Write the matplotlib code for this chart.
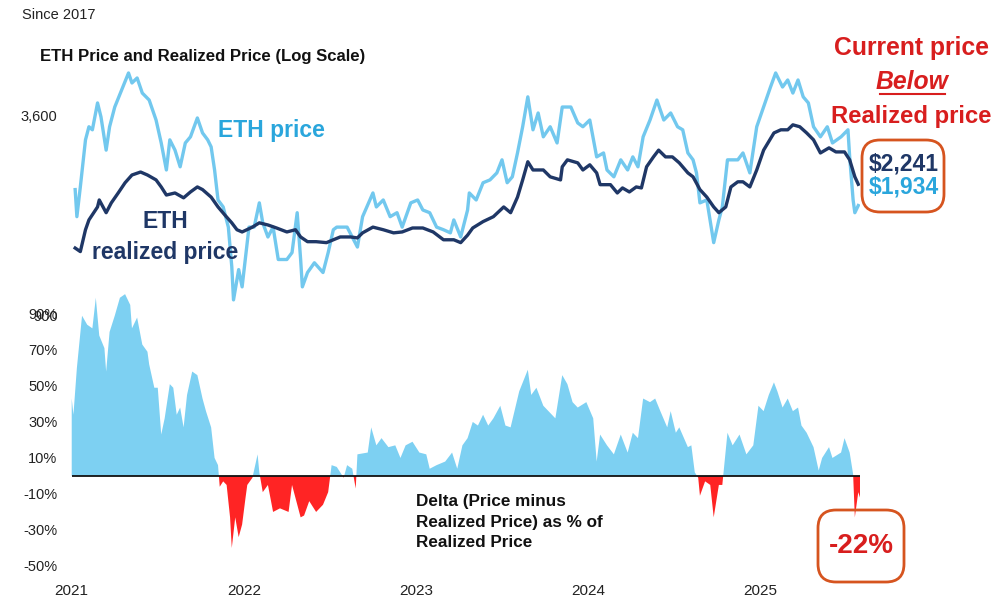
import matplotlib
matplotlib.use("Agg")
import matplotlib.pyplot as plt
import numpy as np
from matplotlib.patches import FancyBboxPatch
from matplotlib.transforms import IdentityTransform

# ETH price (USD, log scale), x in decimal years as labelled on the chart
price_years = [2021.02, 2021.03, 2021.05, 2021.08, 2021.10, 2021.12, 2021.15, 2021.17, 2021.20, 2021.22,
               2021.25, 2021.29, 2021.33, 2021.35, 2021.38, 2021.41, 2021.45, 2021.49, 2021.52, 2021.55,
               2021.57, 2021.60, 2021.63, 2021.66, 2021.69, 2021.73, 2021.76, 2021.79, 2021.81, 2021.83,
               2021.85, 2021.88, 2021.91, 2021.93, 2021.94, 2021.97, 2021.99, 2022.03, 2022.06, 2022.09,
               2022.11, 2022.14, 2022.17, 2022.20, 2022.25, 2022.28, 2022.31, 2022.33, 2022.34, 2022.37,
               2022.41, 2022.46, 2022.49, 2022.52, 2022.54, 2022.60, 2022.66, 2022.69, 2022.75, 2022.77,
               2022.81, 2022.85, 2022.89, 2022.92, 2022.97, 2023.01, 2023.04, 2023.08, 2023.12, 2023.16,
               2023.20, 2023.22, 2023.26, 2023.30, 2023.31, 2023.35, 2023.39, 2023.43, 2023.47, 2023.50,
               2023.53, 2023.56, 2023.59, 2023.62, 2023.65, 2023.68, 2023.71, 2023.74, 2023.78, 2023.82,
               2023.85, 2023.90, 2023.94, 2023.97, 2024.01, 2024.05, 2024.09, 2024.11, 2024.15, 2024.19,
               2024.23, 2024.26, 2024.29, 2024.32, 2024.36, 2024.40, 2024.44, 2024.48, 2024.52, 2024.55,
               2024.58, 2024.61, 2024.63, 2024.65, 2024.69, 2024.73, 2024.76, 2024.78, 2024.81, 2024.87,
               2024.90, 2024.94, 2024.98, 2025.02, 2025.06, 2025.09, 2025.13, 2025.16, 2025.19, 2025.22,
               2025.25, 2025.28, 2025.31, 2025.35, 2025.39, 2025.42, 2025.47, 2025.51, 2025.52, 2025.54,
               2025.55, 2025.57]
price_vals = [2160, 1790, 2200, 3050, 3340, 3270, 3940, 3575, 2840, 3340,
              3830, 4310, 4850, 4525, 4685, 4220, 4020, 3500, 2985, 2475,
              3050, 2840, 2530, 2985, 3115, 3550, 3200, 3050, 2905, 2475,
              2010, 1915, 1665, 1265, 1005, 1240, 1100, 1665, 1665, 1970,
              1715, 1555, 1665, 1330, 1330, 1395, 1840, 1330, 1100, 1215,
              1300, 1215, 1395, 1635, 1665, 1665, 1450, 1790, 2110, 1915,
              2010, 1790, 1840, 1665, 1970, 2010, 1875, 1840, 1665, 1635,
              1600, 1750, 1555, 1875, 2110, 2010, 2265, 2310, 2425, 2655,
              2265, 2360, 2785, 3340, 4110, 3270, 3675, 3115, 3340, 2985,
              3830, 3830, 3430, 3340, 3500, 2710, 2785, 2475, 2360, 2655,
              2475, 2710, 2530, 3115, 3500, 4020, 3500, 3675, 3340, 3270,
              2785, 2655, 2425, 1970, 2010, 1495, 1750, 1915, 2655, 2655,
              2785, 2425, 3340, 3830, 4400, 4850, 4400, 4620, 4220, 4620,
              4110, 3940, 3340, 3115, 3340, 2985, 3115, 3270, 2710, 2010,
              1840, 1934]

# ETH realized price (USD)
real_years = [2021.02, 2021.05, 2021.08, 2021.10, 2021.15, 2021.16, 2021.20, 2021.23, 2021.27, 2021.31,
              2021.35, 2021.40, 2021.44, 2021.49, 2021.52, 2021.55, 2021.60, 2021.65, 2021.69, 2021.73,
              2021.76, 2021.81, 2021.85, 2021.89, 2021.93, 2021.96, 2021.99, 2022.05, 2022.09, 2022.14,
              2022.19, 2022.25, 2022.30, 2022.33, 2022.37, 2022.42, 2022.48, 2022.52, 2022.56, 2022.62,
              2022.66, 2022.69, 2022.75, 2022.81, 2022.87, 2022.92, 2022.98, 2023.04, 2023.10, 2023.16,
              2023.22, 2023.26, 2023.30, 2023.33, 2023.39, 2023.45, 2023.51, 2023.55, 2023.59, 2023.62,
              2023.65, 2023.68, 2023.74, 2023.78, 2023.84, 2023.85, 2023.88, 2023.94, 2023.97, 2024.01,
              2024.05, 2024.07, 2024.13, 2024.17, 2024.20, 2024.24, 2024.28, 2024.31, 2024.34, 2024.38,
              2024.41, 2024.45, 2024.49, 2024.53, 2024.58, 2024.61, 2024.65, 2024.69, 2024.73, 2024.76,
              2024.80, 2024.83, 2024.87, 2024.90, 2024.94, 2024.98, 2025.02, 2025.08, 2025.12, 2025.16,
              2025.19, 2025.23, 2025.27, 2025.31, 2025.35, 2025.40, 2025.44, 2025.49, 2025.52, 2025.55,
              2025.57]
real_vals = [1440, 1405, 1635, 1750, 1915, 2010, 1840, 1970, 2110, 2265,
             2390, 2440, 2390, 2310, 2200, 2080, 2110, 2040, 2125, 2200,
             2160, 2050, 1915, 1810, 1715, 1635, 1610, 1665, 1715, 1690,
             1655, 1610, 1635, 1555, 1505, 1505, 1495, 1525, 1555, 1555,
             1545, 1600, 1665, 1635, 1600, 1610, 1655, 1655, 1610, 1525,
             1525, 1495, 1575, 1655, 1730, 1790, 1915, 1840, 2050, 2310,
             2620, 2475, 2475, 2360, 2310, 2530, 2655, 2600, 2475, 2565,
             2425, 2235, 2235, 2110, 2185, 2125, 2200, 2185, 2530, 2710,
             2840, 2710, 2710, 2600, 2425, 2360, 2160, 2050, 1915, 1840,
             1915, 2200, 2280, 2280, 2200, 2475, 2840, 3200, 3270, 3270,
             3385, 3340, 3200, 3050, 2785, 2885, 2805, 2805, 2655, 2360,
             2241]

# Delta (price minus realized price) as % of realized price
delta_years = [2021.00, 2021.01, 2021.03, 2021.06, 2021.09, 2021.12, 2021.14, 2021.16, 2021.19, 2021.20,
               2021.22, 2021.25, 2021.28, 2021.31, 2021.34, 2021.35, 2021.38, 2021.41, 2021.44, 2021.45,
               2021.48, 2021.50, 2021.52, 2021.54, 2021.57, 2021.59, 2021.61, 2021.63, 2021.65, 2021.67,
               2021.70, 2021.73, 2021.76, 2021.78, 2021.81, 2021.83, 2021.85, 2021.86, 2021.88, 2021.90,
               2021.92, 2021.93, 2021.95, 2021.97, 2021.99, 2022.01, 2022.02, 2022.05, 2022.08, 2022.09,
               2022.11, 2022.14, 2022.17, 2022.21, 2022.26, 2022.28, 2022.33, 2022.35, 2022.38, 2022.42,
               2022.46, 2022.49, 2022.51, 2022.54, 2022.58, 2022.60, 2022.63, 2022.65, 2022.66, 2022.72,
               2022.74, 2022.77, 2022.80, 2022.84, 2022.88, 2022.91, 2022.94, 2022.98, 2023.02, 2023.06,
               2023.08, 2023.12, 2023.17, 2023.21, 2023.24, 2023.27, 2023.30, 2023.33, 2023.36, 2023.39,
               2023.42, 2023.45, 2023.49, 2023.52, 2023.55, 2023.58, 2023.60, 2023.65, 2023.67, 2023.70,
               2023.74, 2023.77, 2023.81, 2023.85, 2023.88, 2023.91, 2023.94, 2023.99, 2024.03, 2024.05,
               2024.07, 2024.11, 2024.15, 2024.19, 2024.23, 2024.26, 2024.29, 2024.32, 2024.36, 2024.39,
               2024.42, 2024.46, 2024.48, 2024.51, 2024.53, 2024.58, 2024.60, 2024.62, 2024.64, 2024.65,
               2024.68, 2024.71, 2024.73, 2024.76, 2024.78, 2024.81, 2024.84, 2024.88, 2024.92, 2024.96,
               2024.99, 2025.02, 2025.05, 2025.08, 2025.10, 2025.13, 2025.16, 2025.19, 2025.22, 2025.24,
               2025.27, 2025.31, 2025.34, 2025.36, 2025.40, 2025.42, 2025.47, 2025.49, 2025.52, 2025.54,
               2025.55, 2025.57, 2025.58]
delta_vals = [43, 34, 60, 89, 84, 82, 99, 78, 71, 58,
              80, 89, 99, 101, 95, 82, 88, 73, 69, 62,
              49, 49, 23, 32, 51, 49, 34, 38, 27, 45,
              58, 56, 43, 36, 27, 10, 6, -6, -3, -5,
              -23, -40, -23, -34, -27, -12, -5, -1, 12, 2,
              -9, -5, -20, -18, -20, -5, -23, -22, -14, -20,
              -16, -9, 6, 5, -1, 6, 4, -7, 12, 13,
              27, 17, 21, 16, 17, 10, 17, 19, 13, 12,
              4, 6, 8, 13, 4, 17, 21, 30, 28, 34,
              28, 32, 39, 28, 27, 39, 47, 59, 45, 49,
              39, 36, 32, 56, 51, 41, 38, 41, 32, 8,
              23, 17, 12, 23, 13, 24, 21, 43, 41, 43,
              36, 27, 36, 24, 27, 16, 17, 2, -1, -11,
              -3, -5, -23, -5, -5, 24, 17, 23, 12, 17,
              39, 36, 45, 52, 47, 38, 43, 36, 38, 28,
              24, 16, 3, 10, 16, 10, 13, 21, 13, 1,
              -23, -9, -12]

year_ticks = [2021, 2022, 2023, 2024, 2025]
delta_ticks = [-50, -30, -10, 10, 30, 50, 70, 90]
price_ticks = [900, 3600]
price_tick_labels = ["900", "3,600"]

LIGHT = "#72c8ee"
FILL = "#7dd0f2"
NAVY = "#1f3766"
RED = "#d81e1e"
BOX = "#d6541f"

plt.rcParams["font.family"] = ["Liberation Sans", "DejaVu Sans"]

W, H = 1000, 600
fig = plt.figure(figsize=(10, 6), dpi=100)


def fx(px):
    return px / W


def fy(py):
    return 1 - py / H


x_lim = (2020.99, 2025.58)
left, right = 70, 860

# bottom panel: delta
ax_d = fig.add_axes([fx(left), fy(578), fx(right - left), (578 - 290) / H])
d = np.array(delta_vals, dtype=float)
yrs = np.array(delta_years)
ax_d.fill_between(yrs, 0, d, where=d >= 0, interpolate=True, color=FILL, lw=0)
ax_d.fill_between(yrs, 0, d, where=d <= 0, interpolate=True, color="#ff2424", lw=0)
ax_d.hlines(0, yrs.min(), yrs.max(), color="#111111", lw=1.3)
ax_d.set_xlim(*x_lim)
ax_d.set_ylim(-56.7, 103.3)
ax_d.set_yticks(delta_ticks)
ax_d.set_yticklabels([f"{v}%" for v in delta_ticks])
ax_d.set_xticks(year_ticks)
ax_d.set_xticklabels([str(y) for y in year_ticks])
ax_d.tick_params(length=0, labelsize=11, colors="#222222", pad=4)
ax_d.tick_params(axis="y", labelsize=10.5, pad=9)
for s in ax_d.spines.values():
    s.set_visible(False)
ax_d.patch.set_alpha(0)

# top panel: prices (log)
ax_p = fig.add_axes([fx(left), fy(578), fx(right - left), (578 - 60) / H])
ax_p.plot(price_years, price_vals, color=LIGHT, lw=2.4)
ax_p.plot(real_years, real_vals, color=NAVY, lw=2.4)
ax_p.set_yscale("log")
ax_p.set_ylim(146, 5307)
ax_p.set_xlim(*x_lim)
ax_p.set_yticks(price_ticks)
ax_p.set_yticklabels(price_tick_labels)
ax_p.yaxis.set_minor_locator(plt.NullLocator())
ax_p.set_xticks([])
ax_p.tick_params(length=0, labelsize=10.5, colors="#222222", pad=9)
for s in ax_p.spines.values():
    s.set_visible(False)
ax_p.patch.set_alpha(0)

# titles
fig.text(fx(22), fy(15), "Since 2017", fontsize=10.5, color="#222222", va="center", ha="left")
fig.text(fx(40), fy(56), "ETH Price and Realized Price (Log Scale)", fontsize=12.1,
         fontweight="bold", color="#111111", va="center", ha="left")

# series labels
fig.text(fx(218), fy(130), "ETH price", fontsize=16.5, fontweight="bold", color="#2aa6dc",
         va="center", ha="left")
fig.text(fx(165), fy(221), "ETH", fontsize=16.5, fontweight="bold", color=NAVY, va="center", ha="center")
fig.text(fx(165), fy(253), "realized price", fontsize=16.5, fontweight="bold", color=NAVY,
         va="center", ha="center")

# right-hand callout
fig.text(fx(912), fy(48), "Current price", fontsize=17.8, fontweight="bold", color=RED,
         va="center", ha="center")
fig.text(fx(912), fy(82), "Below", fontsize=17.8, fontweight="bold", style="italic",
         color=RED, va="center", ha="center")
fig.text(fx(911), fy(116), "Realized price", fontsize=17.2, fontweight="bold", color=RED,
         va="center", ha="center")
fig.lines.append(plt.Line2D([fx(880), fx(945)], [fy(94), fy(94)], transform=fig.transFigure,
                            color=RED, lw=1.5))

fig.patches.append(FancyBboxPatch((862, H - 212), 82, 72, boxstyle="round,pad=0,rounding_size=18",
                                  transform=IdentityTransform(), fill=False, ec=BOX, lw=2))
fig.text(fx(904), fy(164), "$2,241", fontsize=16.5, fontweight="bold", color=NAVY,
         va="center", ha="center")
fig.text(fx(904), fy(187), "$1,934", fontsize=16.5, fontweight="bold", color="#2aa6dc",
         va="center", ha="center")

fig.patches.append(FancyBboxPatch((818, H - 582), 86, 72, boxstyle="round,pad=0,rounding_size=18",
                                  transform=IdentityTransform(), fill=False, ec=BOX, lw=2))
fig.text(fx(861), fy(546), "-22%", fontsize=20, fontweight="bold", color=RED,
         va="center", ha="center")

fig.text(fx(416), fy(522), "Delta (Price minus\nRealized Price) as % of\nRealized Price",
         fontsize=12.3, fontweight="bold", color="#111111", va="center", ha="left", linespacing=1.45)

fig.savefig("out.png", dpi=100)
